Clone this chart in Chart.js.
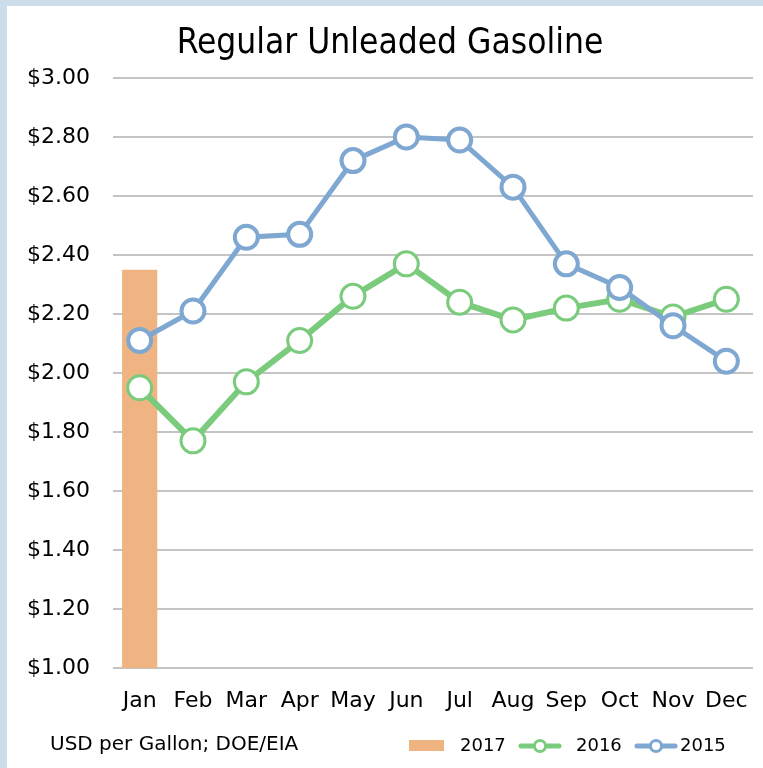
<!DOCTYPE html>
<html>
<head>
<meta charset="utf-8">
<script src="https://cdn.jsdelivr.net/npm/chart.js@4/dist/chart.umd.min.js"></script>
<style>
    html, body { margin: 0; padding: 0; background: #fff; }
    #wrap { width: 763px; height: 768px; position: relative; }
</style>
</head>
<body>
<div id="wrap"><canvas id="gasChart" width="763" height="768"></canvas></div>
<script>
const months = ['Jan', 'Feb', 'Mar', 'Apr', 'May', 'Jun', 'Jul', 'Aug', 'Sep', 'Oct', 'Nov', 'Dec'];
const price2017 = [2.35, null, null, null, null, null, null, null, null, null, null, null];
const price2016 = [1.95, 1.77, 1.97, 2.11, 2.26, 2.37, 2.24, 2.18, 2.22, 2.25, 2.19, 2.25];
const price2015 = [2.11, 2.21, 2.46, 2.47, 2.72, 2.80, 2.79, 2.63, 2.37, 2.29, 2.16, 2.04];
const seriesNames = ['2017', '2016', '2015'];
const yMin = 1.0;
const yMax = 3.0;
const yStep = 0.2;

const FONT = '"DejaVu Sans", sans-serif';
const TITLE_FONT = '"DejaVu Sans Condensed", "DejaVu Sans", sans-serif';
const orange = '#F0B482';
const green = '#7BCB7D';
const blue = '#7EA7D1';

// Border, title, source note and legend (Excel style)
const decor = {
    id: 'decor',
    beforeDraw(chart) {
        const ctx = chart.ctx;
        ctx.save();
        ctx.fillStyle = '#fff';
        ctx.fillRect(0, 0, chart.width, chart.height);
        ctx.fillStyle = '#CCDCEB';
        ctx.fillRect(0, 0, chart.width, 6);
        ctx.fillRect(0, 0, 7, chart.height);
        ctx.restore();
    },
    afterDraw(chart) {
        const ctx = chart.ctx;
        ctx.save();
        ctx.fillStyle = '#000';
        ctx.textBaseline = 'middle';
        ctx.textAlign = 'center';
        ctx.font = '35px ' + TITLE_FONT;
        ctx.fillText('Regular Unleaded Gasoline', 390, 44);

        ctx.textAlign = 'left';
        ctx.font = '20px ' + FONT;
        ctx.fillText('USD per Gallon; DOE/EIA', 50, 745);

        // legend
        const ly = 746;
        ctx.fillStyle = orange;
        ctx.fillRect(409, ly - 6, 35, 11);
        const lineIcon = (x0, color) => {
            ctx.strokeStyle = color;
            ctx.lineWidth = 5;
            ctx.lineCap = 'round';
            ctx.beginPath(); ctx.moveTo(x0, ly); ctx.lineTo(x0 + 38, ly); ctx.stroke();
            ctx.fillStyle = '#fff';
            ctx.lineWidth = 3;
            ctx.beginPath(); ctx.arc(x0 + 19, ly, 5.5, 0, Math.PI * 2); ctx.fill(); ctx.stroke();
        };
        lineIcon(521, green);
        lineIcon(637, blue);
        ctx.fillStyle = '#000';
        ctx.font = '18px ' + FONT;
        ctx.fillText(seriesNames[0], 460, ly);
        ctx.fillText(seriesNames[1], 576, ly);
        ctx.fillText(seriesNames[2], 680, ly);
        ctx.restore();
    }
};

new Chart(document.getElementById('gasChart'), {
    data: {
        labels: months,
        datasets: [
            {
                type: 'bar',
                label: seriesNames[0],
                data: price2017,
                backgroundColor: orange,
                categoryPercentage: 0.66,
                barPercentage: 1,
                order: 3
            },
            {
                type: 'line',
                label: seriesNames[1],
                data: price2016,
                borderColor: green,
                borderWidth: 6,
                pointRadius: 12,
                pointBorderWidth: 3,
                pointBackgroundColor: '#fff',
                pointBorderColor: green,
                order: 2
            },
            {
                type: 'line',
                label: seriesNames[2],
                data: price2015,
                borderColor: blue,
                borderWidth: 5,
                pointRadius: 11.5,
                pointBorderWidth: 4,
                pointBackgroundColor: '#fff',
                pointBorderColor: blue,
                order: 1
            }
        ]
    },
    options: {
        responsive: false,
        animation: false,
        layout: { autoPadding: false, padding: { left: 8, right: 10, top: 78, bottom: 54 } },
        scales: {
            x: {
                offset: true,
                afterFit(axis) {
                    axis.height = 46;
                    axis.paddingLeft = 0;
                    axis.paddingRight = 0;
                },
                grid: { display: false, drawTicks: false },
                border: { display: false },
                ticks: { color: '#000', font: { family: FONT, size: 22 }, padding: 20, maxRotation: 0 }
            },
            y: {
                min: yMin,
                max: yMax,
                afterFit(axis) { axis.width = 105; },
                grid: { color: '#C4C4C4', lineWidth: 2, drawTicks: false },
                border: { display: false },
                ticks: {
                    stepSize: yStep,
                    color: '#000',
                    padding: 23,
                    font: { family: FONT, size: 22 },
                    callback: v => '$' + Number(v).toFixed(2)
                }
            }
        },
        plugins: {
            title: { display: false },
            legend: { display: false },
            tooltip: { enabled: false }
        }
    },
    plugins: [decor]
});
</script>
</body>
</html>
